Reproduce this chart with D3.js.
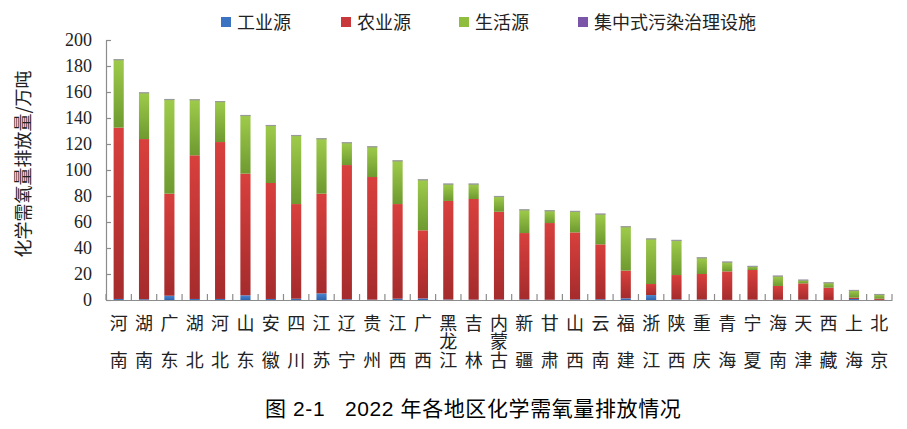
<!DOCTYPE html>
<html><head><meta charset="utf-8">
<script src="https://cdn.jsdelivr.net/npm/d3@7"></script>
<style>body{margin:0;background:#fff}svg{display:block}</style>
</head><body>
<svg id="c" width="907" height="429"></svg>
<script>
const regions = ["河南","湖南","广东","湖北","河北","山东","安徽","四川","江苏","辽宁","贵州","江西","广西","黑龙江","吉林","内蒙古","新疆","甘肃","山西","云南","福建","浙江","陕西","重庆","青海","宁夏","海南","天津","西藏","上海","北京"];
const industrial = [0.8,0.6,3.3,0.8,0.8,3.6,0.8,1.0,5.1,0.6,0.3,1.0,1.2,0.4,0.3,0.4,0.5,0.2,0.5,0.6,1.3,3.8,0.5,0.4,0.1,0.3,0.2,0.3,0.05,0.8,0.1];
const agricultural = [131.8,123.2,78.5,110.5,120.7,93.6,89.2,72.8,76.7,103.2,94.3,72.8,52.4,75.8,77.4,67.5,51.0,59.0,51.5,42.2,21.3,8.5,18.7,19.6,21.9,22.8,10.6,12.5,9.45,1.0,0.9];
const domestic = [52.4,35.7,72.6,42.9,31.3,44.9,44.4,52.9,42.4,17.3,23.4,33.4,39.0,13.1,11.6,11.9,18.0,9.6,16.3,23.4,33.9,34.8,26.8,12.6,7.3,2.9,7.7,2.6,3.9,5.7,3.4];
const centralized = [0.2,0.2,0.2,0.2,0.2,0.2,0.2,0.2,0.2,0.2,0.2,0.2,0.2,0.2,0.2,0.2,0.2,0.2,0.2,0.2,0.2,0.2,0.2,0.2,0.2,0.2,0.2,0.2,0.2,0.2,0.2];
const seriesNames = ["工业源","农业源","生活源","集中式污染治理设施"];
const yTicks = [0,20,40,60,80,100,120,140,160,180,200];
const yTitle = "化学需氧量排放量/万吨";
const titleNo = "图 2-1";
const titleText = "2022 年各地区化学需氧量排放情况";

const svg = d3.select("#c");
const mLeft = 106, mRight = 892, mTop = 40, mBottom = 300;
const x = d3.scaleBand().domain(regions).range([mLeft, mRight]).paddingInner(0.6).paddingOuter(0.3);
const xb = d3.scaleBand().domain(regions).range([mLeft, mRight]);
const y = d3.scaleLinear().domain([0, 200]).range([mBottom, mTop]);

const defs = svg.append("defs");
const grads = [
  ["g0", "#4a86d0", "#2f63ad"],
  ["g1", "#d8403d", "#a52b2c"],
  ["g2", "#9fcb4b", "#6e9a30"],
  ["g3", "#8a62b8", "#6a4698"]
];
const legendColors = ["#3b73c2", "#c9383a", "#8fbd3e", "#7b55a8"];
grads.forEach(([id, c1, c2]) => {
  const g = defs.append("linearGradient").attr("id", id).attr("x1", 0).attr("y1", 0).attr("x2", 0).attr("y2", 1);
  g.append("stop").attr("offset", "0%").attr("stop-color", c1);
  g.append("stop").attr("offset", "100%").attr("stop-color", c2);
});

const rows = regions.map((r, i) => ({region: r, s0: industrial[i], s1: agricultural[i], s2: domestic[i], s3: centralized[i]}));
const stack = d3.stack().keys(["s0","s1","s2","s3"])(rows);

// axes
const gx = svg.append("g").attr("transform", `translate(0,${mBottom})`)
  .call(d3.axisBottom(xb).tickValues([]).tickSizeOuter(0));
gx.select(".domain").attr("stroke", "#8c8c8c").attr("stroke-width", 1.2);
const bounds = regions.map(r => xb(r) + xb.bandwidth()).concat([mLeft]);
svg.append("g").selectAll("line").data(bounds).join("line")
  .attr("x1", d => d).attr("x2", d => d).attr("y1", mBottom).attr("y2", mBottom - 6)
  .attr("stroke", "#8c8c8c").attr("stroke-width", 1.2);

const gy = svg.append("g").attr("transform", `translate(${mLeft},0)`)
  .call(d3.axisLeft(y).tickValues(yTicks).tickSize(-5).tickPadding(14).tickSizeOuter(0));
gy.select(".domain").attr("stroke", "#8c8c8c").attr("stroke-width", 1.2);
gy.selectAll(".tick line").attr("stroke", "#8c8c8c").attr("stroke-width", 1.2);
gy.selectAll(".tick text").attr("font-family", "Liberation Serif, serif").attr("font-size", 18).attr("fill", "#222").attr("x", -14);

// bars
svg.append("g").selectAll("g").data(stack).join("g")
  .attr("fill", (d, i) => `url(#g${i})`)
  .selectAll("rect").data(d => d).join("rect")
  .attr("x", d => x(d.data.region))
  .attr("width", x.bandwidth())
  .attr("y", d => y(d[1]))
  .attr("height", d => Math.max(0, y(d[0]) - y(d[1])));
// top edge
svg.append("g").selectAll("line").data(stack[3]).join("line")
  .attr("x1", d => x(d.data.region)).attr("x2", d => x(d.data.region) + x.bandwidth())
  .attr("y1", d => y(d[1]) + 0.5).attr("y2", d => y(d[1]) + 0.5)
  .attr("stroke", "#9a9a9a").attr("stroke-width", 1.2);

// x labels (vertical text)
const lab = svg.append("g").attr("font-family", "Noto Sans CJK SC").attr("font-size", 18).attr("fill", "#222");
regions.forEach(r => {
  const cx = xb(r) + xb.bandwidth() / 2;
  const n = Array.from(r).length;
  lab.append("text").attr("x", cx).attr("y", 314)
    .style("writing-mode", "vertical-rl")
    .attr("letter-spacing", n === 3 ? 0.5 : 19)
    .text(r);
});

// y title
svg.append("text").attr("transform", "translate(30,164) rotate(-90)")
  .attr("text-anchor", "middle").attr("font-family", "Noto Sans CJK SC").attr("font-size", 18).attr("fill", "#222")
  .text(yTitle);

// legend
const legX = [221, 341, 459, 578];
const leg = svg.append("g");
seriesNames.forEach((n, i) => {
  leg.append("rect").attr("x", legX[i]).attr("y", 17).attr("width", 10).attr("height", 10).attr("fill", legendColors[i]);
  leg.append("text").attr("x", legX[i] + 16).attr("y", 29).attr("font-family", "Noto Sans CJK SC").attr("font-size", 18).attr("fill", "#222").text(n);
});

// title
const t = svg.append("text").attr("y", 416)
  .attr("font-family", "Liberation Sans, Noto Sans CJK SC").attr("font-size", 21).attr("fill", "#000")
  .attr("letter-spacing", 0.6);
t.append("tspan").attr("x", 265).text(titleNo);
t.append("tspan").attr("x", 345).text(titleText);
</script>
</body></html>
